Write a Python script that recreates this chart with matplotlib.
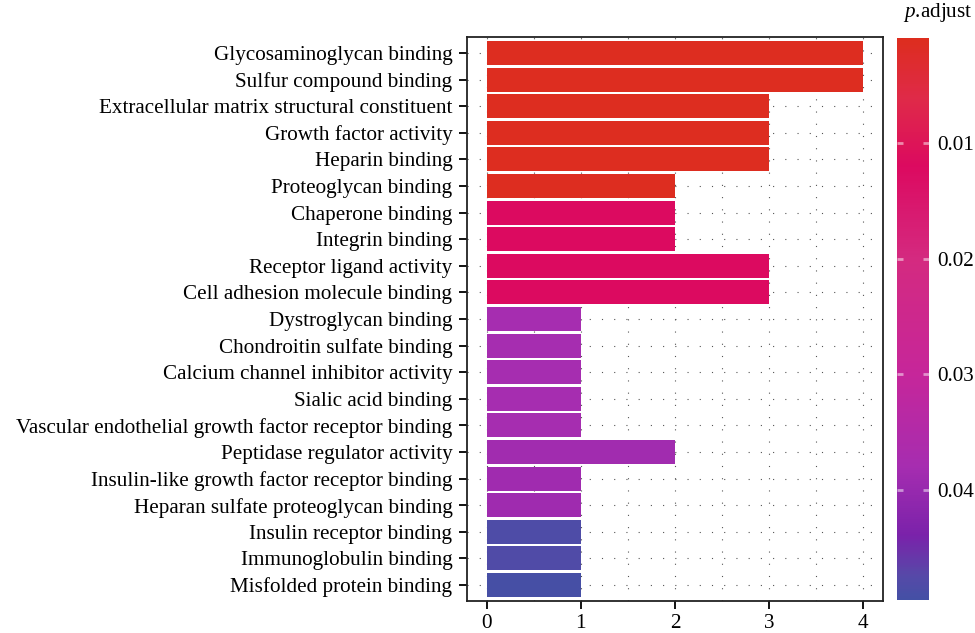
import matplotlib
matplotlib.use("Agg")
import matplotlib.pyplot as plt
import numpy as np
from matplotlib.colors import LinearSegmentedColormap, Normalize
from matplotlib.cm import ScalarMappable

plt.rcParams['font.family'] = ['Liberation Serif', 'DejaVu Serif']
plt.rcParams['mathtext.fontset'] = 'custom'
plt.rcParams['mathtext.rm'] = 'Liberation Serif'
plt.rcParams['mathtext.it'] = 'Liberation Serif:italic'

categories = [
    "Glycosaminoglycan binding",
    "Sulfur compound binding",
    "Extracellular matrix structural constituent",
    "Growth factor activity",
    "Heparin binding",
    "Proteoglycan binding",
    "Chaperone binding",
    "Integrin binding",
    "Receptor ligand activity",
    "Cell adhesion molecule binding",
    "Dystroglycan binding",
    "Chondroitin sulfate binding",
    "Calcium channel inhibitor activity",
    "Sialic acid binding",
    "Vascular endothelial growth factor receptor binding",
    "Peptidase regulator activity",
    "Insulin-like growth factor receptor binding",
    "Heparan sulfate proteoglycan binding",
    "Insulin receptor binding",
    "Immunoglobulin binding",
    "Misfolded protein binding",
]
counts = [4, 4, 3, 3, 3, 2, 2, 2, 3, 3, 1, 1, 1, 1, 1, 2, 1, 1, 1, 1, 1]
p_adjust = [0.0012, 0.0012, 0.0012, 0.0012, 0.0012, 0.0012,
            0.012, 0.012, 0.012, 0.012,
            0.038, 0.038, 0.038, 0.038, 0.038, 0.0385, 0.0388, 0.039,
            0.0482, 0.0480, 0.0493]

cmap_p = [0.0009, 0.006, 0.012, 0.02, 0.03, 0.038, 0.044, 0.0475, 0.0495]
cmap_colors = ['#dd2d1e', '#df2a48', '#dc0a60', '#d42a80', '#c6269a',
               '#a62db0', '#7a22aa', '#5649a8', '#4450a5']
p_min, p_max = 0.0009, 0.0495

cb_ticks = [0.01, 0.02, 0.03, 0.04]
x_ticks = [0, 1, 2, 3, 4]

nodes = [(p - p_min) / (p_max - p_min) for p in cmap_p]
cmap = LinearSegmentedColormap.from_list('padj', list(zip(nodes, cmap_colors)))
norm = Normalize(vmin=p_min, vmax=p_max)

fig = plt.figure(figsize=(9.75, 6.33), dpi=100)
ax = fig.add_axes([0.479, 0.0506, 0.4267, 0.891])

n = len(categories)
ypos = np.arange(n)
ax.barh(ypos, counts, height=0.9, color=cmap(norm(np.array(p_adjust))), zorder=3)
ax.set_ylim(n - 0.4, -0.6)
ax.set_xlim(-0.21, 4.21)
ax.set_yticks(ypos)
ax.set_yticklabels(categories, fontsize=15.2)
ax.set_xticks(x_ticks)
ax.set_xticklabels([str(t) for t in x_ticks], fontsize=15.2)
ax.set_xticks(np.arange(0.5, 4.0, 1.0), minor=True)
ax.tick_params(axis='both', which='major', direction='out', length=5.5, width=1.3, color='black')
ax.tick_params(axis='y', which='major', pad=5)
ax.tick_params(axis='x', which='major', pad=4)
ax.tick_params(axis='x', which='minor', length=0)
grid_kw = dict(color='#555555', linewidth=0.8, linestyle=(0, (1, 10)), zorder=0)
ax.grid(True, which='major', axis='both', **grid_kw)
ax.grid(True, which='minor', axis='x', **grid_kw)
ax.set_axisbelow(True)
for s in ax.spines.values():
    s.set_linewidth(1.3)
    s.set_color('#222222')

cax = fig.add_axes([0.920, 0.0521, 0.0328, 0.888])
sm = ScalarMappable(norm=norm, cmap=cmap)
cb = fig.colorbar(sm, cax=cax)
cb.outline.set_visible(False)
cax.invert_yaxis()
cb.set_ticks(cb_ticks)
cb.set_ticklabels([f"{t:.2f}" for t in cb_ticks])
cax.tick_params(axis='y', direction='in', length=4, width=2, color=(1, 1, 1, 0.5),
                labelcolor='black', left=True, right=True, labelsize=15.2, pad=6)
fig.text(0.9615, 0.962, r"$\it{p}$.adjust", ha='center', va='bottom', fontsize=15.2)

fig.savefig("out.png", dpi=100)
